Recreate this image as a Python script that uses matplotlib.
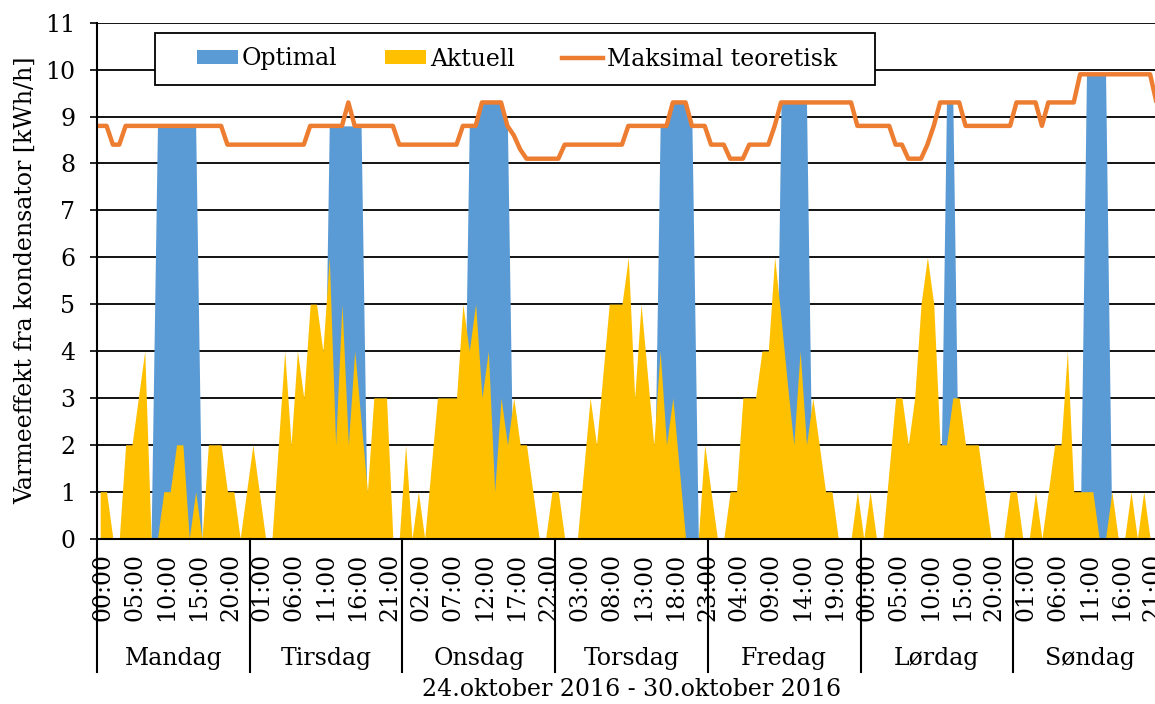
import matplotlib
matplotlib.use("Agg")
import matplotlib.pyplot as plt
import matplotlib.transforms as mtransforms
from matplotlib.patches import Patch, Rectangle
from matplotlib.lines import Line2D
import numpy as np

# Day names (one group of 24 hourly values each)
days = ["Mandag", "Tirsdag", "Onsdag", "Torsdag", "Fredag", "Lørdag", "Søndag"]

# Optimal heat output from the condenser [kWh/h], hourly
optimal = (
    [0, 0, 0, 0, 0, 0, 0, 0, 0, 8.8, 8.8, 8.8, 8.8, 8.8, 8.8, 8.8, 0, 0, 0, 0, 0, 0, 0, 0]
    + [0, 0, 0, 0, 0, 0, 0, 0, 0, 0, 0, 0, 8.8, 8.8, 8.8, 8.8, 8.8, 8.8, 0, 0, 0, 0, 0, 0]
    + [0, 0, 0, 0, 0, 0, 0, 0, 0, 0, 8.8, 8.8, 9.3, 9.3, 9.3, 9.3, 8.8, 0, 0, 0, 0, 0, 0, 0]
    + [0, 0, 0, 0, 0, 0, 0, 0, 0, 0, 0, 0, 0, 0, 0, 0, 8.8, 8.8, 9.3, 9.3, 9.3, 8.8, 0, 0]
    + [0, 0, 0, 0, 0, 0, 0, 0, 0, 0, 0, 9.3, 9.3, 9.3, 9.3, 9.3, 0, 0, 0, 0, 0, 0, 0, 0]
    + [0, 0, 0, 0, 0, 0, 0, 0, 0, 0, 0, 0, 0, 9.3, 9.3, 0, 0, 0, 0, 0, 0, 0, 0, 0]
    + [0, 0, 0, 0, 0, 0, 0, 0, 0, 0, 0, 9.9, 9.9, 9.9, 9.9, 0, 0, 0, 0, 0, 0, 0, 0, 0]
)

# Actual heat output [kWh/h], hourly
aktuell = (
    [1, 1, 0, 0, 2, 2, 3, 4, 0, 0, 1, 1, 2, 2, 0, 1, 0, 2, 2, 2, 1, 1, 0, 1]
    + [2, 1, 0, 0, 2, 4, 2, 4, 3, 5, 5, 4, 6, 2, 5, 2, 4, 2.5, 1, 3, 3, 3, 0, 0]
    + [2, 0, 1, 0, 1.5, 3, 3, 3, 3, 5, 4, 5, 3, 4, 1, 3, 2, 3, 2, 2, 1, 0, 0, 1]
    + [1, 0, 0, 0, 1.5, 3, 2, 3.5, 5, 5, 5, 6, 3, 5, 3.5, 2, 4, 2, 3, 1.5, 0, 0, 0, 2]
    + [1, 0, 0, 1, 1, 3, 3, 3, 4, 4, 6, 4.7, 3.3, 2, 4, 2, 3, 2, 1, 1, 0, 0, 0, 1]
    + [0, 1, 0, 0, 1.5, 3, 3, 2, 3, 5, 6, 5, 2, 2, 3, 3, 2, 2, 2, 1, 0, 0, 0, 1]
    + [1, 0, 0, 1, 0, 1, 2, 2, 4, 1, 1, 1, 1, 0, 0, 1, 0, 0, 1, 0, 1, 0, 0, 0]
)

# Maximum theoretical heat output [kWh/h], hourly
maksimal = (
    [8.8, 8.8, 8.4, 8.4] + [8.8] * 16 + [8.4] * 4
    + [8.4] * 9 + [8.8] * 6 + [9.3] + [8.8] * 7 + [8.4]
    + [8.4] * 9 + [8.8] * 3 + [9.3] * 4 + [8.8, 8.6, 8.3] + [8.1] * 5
    + [8.1] + [8.4] * 10 + [8.8] * 7 + [9.3] * 3 + [8.8] * 3
    + [8.4] * 3 + [8.1] * 3 + [8.4] * 4 + [8.8] + [9.3] * 12 + [8.8]
    + [8.8] * 5 + [8.4] * 2 + [8.1] * 3 + [8.4, 8.8] + [9.3] * 4 + [8.8] * 8
    + [9.3] * 4 + [8.8] + [9.3] * 5 + [9.9] * 12 + [9.3] * 2
)

series_names = ["Optimal", "Aktuell", "Maksimal teoretisk"]
y_ticks = list(range(0, 12))
x_title = "24.oktober 2016 - 30.oktober 2016"
y_title = "Varmeeffekt fra kondensator [kWh/h]"

BLUE = "#5B9BD5"
YELLOW = "#FFC000"
ORANGE = "#ED7D31"

plt.rcParams["font.family"] = ["DejaVu Serif"]
FS = 17

W, H = 1155, 704
fig = plt.figure(figsize=(W / 100, H / 100), dpi=100)

# plot area in pixels (extends past the right edge of the canvas)
left_px, right_px, top_px, bottom_px = 97, 1166, 22.7, 538.6
ax = fig.add_axes([left_px / W, 1 - bottom_px / H,
                   (right_px - left_px) / W, (bottom_px - top_px) / H])

n = len(aktuell)
x = np.arange(n)

ax.fill_between(x, 0, optimal, color=BLUE, lw=0, zorder=2)
ax.fill_between(x, 0, aktuell, color=YELLOW, lw=0, zorder=3)
ax.plot(x, maksimal, color=ORANGE, lw=3.2, solid_joinstyle="round", zorder=4)

ax.set_xlim(-0.5, n - 0.5)
ax.set_ylim(0, 11)

# horizontal gridlines
ax.set_yticks(y_ticks)
ax.set_yticklabels([str(v) for v in y_ticks], fontsize=FS)
ax.yaxis.grid(True, color="black", lw=1.3)
ax.set_axisbelow(True)
ax.tick_params(axis="y", direction="out", length=5, width=1.2, pad=10.5)

for side in ["top", "right"]:
    ax.spines[side].set_visible(False)
ax.spines["left"].set_linewidth(1.5)
ax.spines["bottom"].set_linewidth(1.5)
ax.spines["bottom"].set_zorder(5)

# hour labels every fifth hour
tick_pos = list(range(0, n, 5))
tick_lab = ["%02d:00" % (i % 24) for i in tick_pos]
ax.set_xticks(tick_pos)
ax.set_xticklabels(tick_lab, rotation=90, fontsize=FS, va="top", ha="center")
ax.tick_params(axis="x", length=0, pad=10.5)
shift = mtransforms.ScaledTranslation(3 / 100, 0, fig.dpi_scale_trans)
for lab in ax.get_xticklabels():
    lab.set_transform(lab.get_transform() + shift)

# day groups: separators and names
trans = mtransforms.blended_transform_factory(ax.transData, ax.transAxes)
sep_bottom = (bottom_px - 672) / (bottom_px - top_px)
name_y = (bottom_px - 658) / (bottom_px - top_px)
for k, day in enumerate(days):
    xb = 24 * k - 0.5
    ax.plot([xb, xb], [0, sep_bottom], color="black", lw=1.5,
            transform=trans, clip_on=False, zorder=6)
    ax.text(24 * k + 11.5, name_y, day, transform=trans, ha="center",
            va="center", fontsize=FS)
ax.plot([n - 0.5, n - 0.5], [0, sep_bottom], color="black", lw=1.5,
        transform=trans, clip_on=False)

fig.text((left_px + right_px) / 2 / W, 1 - 690 / H, x_title,
         ha="center", va="center", fontsize=FS)

ax.set_ylabel(y_title, fontsize=FS)
ax.yaxis.set_label_coords((37 - left_px) / (right_px - left_px), 0.5)

# legend with its own framed box
box = Rectangle((155 / W, 1 - 85 / H), 720 / W, 52 / H, transform=fig.transFigure,
                facecolor="white", edgecolor="black", lw=1.3, zorder=3)
fig.add_artist(box)
handles = [Patch(facecolor=BLUE, edgecolor="none"),
           Patch(facecolor=YELLOW, edgecolor="none"),
           Line2D([0], [0], color=ORANGE, lw=3.2)]
fig.legend(handles, series_names, loc="center", ncol=3,
           bbox_to_anchor=(517 / W, 1 - 59 / H), frameon=False, fontsize=FS,
           handlelength=1.75, handleheight=0.5, handletextpad=0.15,
           columnspacing=2.0, borderpad=0)

fig.savefig("out.png", dpi=100)
